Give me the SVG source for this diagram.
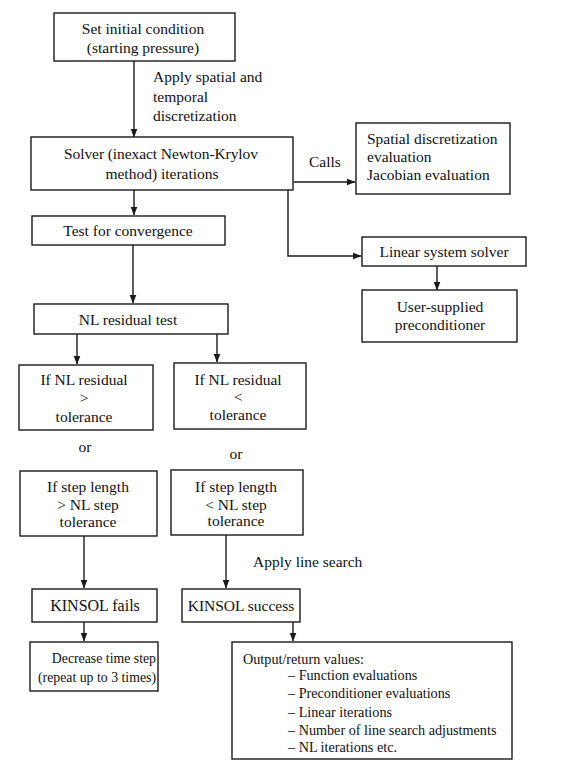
<svg xmlns="http://www.w3.org/2000/svg" width="572" height="769" viewBox="0 0 572 769">
<defs>
<marker id="ah" markerWidth="9" markerHeight="8" refX="8.5" refY="3.5" orient="auto" markerUnits="userSpaceOnUse">
<path d="M0,0 L9,3.5 L0,7 Z" fill="#1a1a1a"/>
</marker>
<style>
.box{fill:#fff;stroke:#1a1a1a;stroke-width:1.4}
.c{fill:none;stroke:#1a1a1a;stroke-width:1.4;marker-end:url(#ah)}
text{font-family:'Liberation Serif','DejaVu Serif',serif;font-size:15.5px;fill:#111}
.m{text-anchor:middle}
.e{text-anchor:end}
.s{font-size:14.2px}
.t{font-size:13.8px}
</style>
</defs>
<rect width="572" height="769" fill="#fff"/>
<g id="connectors">
<path class="c" d="M134,61 V137"/>
<path class="c" d="M294,182 H355"/>
<path class="c" d="M288,190 V256 H361"/>
<path class="c" d="M437,266 V290"/>
<path class="c" d="M134,190 V215"/>
<path class="c" d="M133,245 V303"/>
<path class="c" d="M77,334 V364"/>
<path class="c" d="M217,334 V362"/>
<path class="c" d="M84,536 V588"/>
<path class="c" d="M226,535 V588"/>
<path class="c" d="M84,622 V641"/>
<path class="c" d="M293,622 V641"/>
</g>
<g id="content" font-family="'Liberation Serif', 'DejaVu Serif', serif">
<g id="labels">
<text x="153" y="82">Apply spatial and</text>
<text x="153" y="102">temporal</text>
<text x="153" y="121">discretization</text>
<text x="309" y="167">Calls</text>
<text class="m" x="85" y="452">or</text>
<text class="m" x="236" y="459">or</text>
<text x="253" y="567">Apply line search</text>
</g>
<g id="n1"><rect class="box" x="54" y="13" width="181" height="48"/>
<text class="m" x="143" y="34">Set initial condition</text>
<text class="m" x="143" y="53">(starting pressure)</text></g>
<g id="n2"><rect class="box" x="31" y="137" width="262" height="53"/>
<text class="m" x="161" y="159" textLength="194">Solver (inexact Newton-Krylov</text>
<text class="m" x="162" y="179">method) iterations</text></g>
<g id="n3"><rect class="box" x="356" y="123" width="154" height="71"/>
<text x="367" y="144">Spatial discretization</text>
<text x="367" y="162">evaluation</text>
<text x="367" y="180">Jacobian evaluation</text></g>
<g id="n4"><rect class="box" x="362" y="237" width="164" height="29"/>
<text class="m" x="444" y="257">Linear system solver</text></g>
<g id="n5"><rect class="box" x="362" y="290" width="155" height="52"/>
<text class="m" x="440" y="312">User-supplied</text>
<text class="m" x="440" y="330">preconditioner</text></g>
<g id="n6"><rect class="box" x="32" y="216" width="193" height="29"/>
<text class="m" x="128" y="236">Test for convergence</text></g>
<g id="n7"><rect class="box" x="34" y="304" width="194" height="30"/>
<text class="m" x="128" y="325">NL residual test</text></g>
<g id="n8"><rect class="box" x="19" y="365" width="134" height="65"/>
<text class="m" x="84" y="385">If NL residual</text>
<text class="m" x="84" y="403">&gt;</text>
<text class="m" x="84" y="422">tolerance</text></g>
<g id="n9"><rect class="box" x="174" y="363" width="132" height="66"/>
<text class="m" x="238" y="385">If NL residual</text>
<text class="m" x="238" y="402">&lt;</text>
<text class="m" x="238" y="420">tolerance</text></g>
<g id="n10"><rect class="box" x="20" y="471" width="137" height="65"/>
<text class="m" x="88" y="492">If step length</text>
<text class="m" x="88" y="510">&gt; NL step</text>
<text class="m" x="88" y="527">tolerance</text></g>
<g id="n11"><rect class="box" x="171" y="470" width="132" height="65"/>
<text class="m" x="236" y="492">If step length</text>
<text class="m" x="236" y="510">&lt; NL step</text>
<text class="m" x="236" y="526">tolerance</text></g>
<g id="n12"><rect class="box" x="32" y="589" width="125" height="33"/>
<text class="m" x="95" y="611" style="font-size:16px">KINSOL fails</text></g>
<g id="n13"><rect class="box" x="182" y="589" width="118" height="33"/>
<text class="m" x="241" y="611">KINSOL success</text></g>
<g id="n14"><rect class="box" x="30" y="642" width="128" height="49"/>
<text class="e t" x="156" y="663">Decrease time step</text>
<text class="e t" x="156" y="682">(repeat up to 3 times)</text></g>
<g id="n15"><rect class="box" x="232" y="642" width="280" height="117"/>
<text class="s" x="243" y="664">Output/return values:</text>
<text class="s" x="288" y="680">– Function evaluations</text>
<text class="s" x="288" y="698">– Preconditioner evaluations</text>
<text class="s" x="288" y="717">– Linear iterations</text>
<text class="s" x="288" y="735">– Number of line search adjustments</text>
<text class="s" x="288" y="752">– NL iterations etc.</text></g>
</g>
</svg>
